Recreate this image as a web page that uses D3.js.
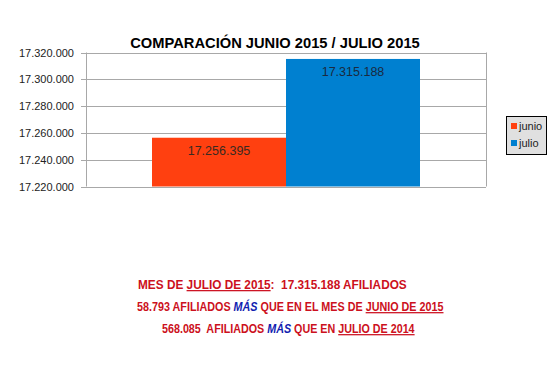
<!DOCTYPE html>
<html>
<head>
<style>
body { margin: 0; background: #fff; }
text { font-family: "Liberation Sans", Arial, sans-serif; }
</style>
</head>
<body>
<div id="chart"></div>
<script src="https://d3js.org/d3.v7.min.js"></script>
<script>
const width = 552, height = 368;

const categories = ["junio", "julio"];
const values = [17256395, 17315188];
const colors = ["#ff4010", "#0080d0"];
const yTicks = [17220000, 17240000, 17260000, 17280000, 17300000, 17320000];

const es = d3.formatLocale({ decimal: ",", thousands: ".", grouping: [3], currency: ["", " €"] });
const fmt = es.format(",d");

const svg = d3.select("#chart").append("svg")
  .attr("width", width)
  .attr("height", height);

svg.append("rect").attr("width", width).attr("height", height).attr("fill", "#fff");

const plot = { left: 86, right: 486, top: 52.5, bottom: 186.5 };

const y = d3.scaleLinear()
  .domain([17220000, 17320000])
  .range([plot.bottom, plot.top]);

const x = d3.scaleBand()
  .domain(categories)
  .range([152, 420]);

// gridlines
svg.append("g")
  .selectAll("line")
  .data(yTicks)
  .join("line")
    .attr("x1", plot.left - 5)
    .attr("x2", plot.right)
    .attr("y1", d => Math.round(y(d)) + 0.5)
    .attr("y2", d => Math.round(y(d)) + 0.5)
    .attr("stroke", "#a8a8a8");

// axis & right border
svg.append("line")
  .attr("x1", plot.left + 0.5).attr("x2", plot.left + 0.5)
  .attr("y1", plot.top).attr("y2", plot.bottom)
  .attr("stroke", "#a8a8a8");
svg.append("line")
  .attr("x1", plot.right + 0.5).attr("x2", plot.right + 0.5)
  .attr("y1", plot.top).attr("y2", plot.bottom)
  .attr("stroke", "#a8a8a8");

// tick labels
svg.append("g")
  .selectAll("text")
  .data(yTicks)
  .join("text")
    .attr("x", 74)
    .attr("y", d => y(d) + 4)
    .attr("text-anchor", "end")
    .attr("font-size", 11)
    .attr("fill", "#222")
    .text(d => fmt(d));

// bars
svg.append("g")
  .selectAll("rect")
  .data(values)
  .join("rect")
    .attr("x", (d, i) => x(categories[i]))
    .attr("width", x.bandwidth())
    .attr("y", d => y(d))
    .attr("height", d => plot.bottom - y(d))
    .attr("fill", (d, i) => colors[i]);

// bar labels
svg.append("g")
  .selectAll("text")
  .data(values)
  .join("text")
    .attr("x", (d, i) => x(categories[i]) + x.bandwidth() / 2)
    .attr("y", d => y(d) + 17)
    .attr("text-anchor", "middle")
    .attr("font-size", 12.5)
    .attr("fill", (d, i) => i === 0 ? "#3a2a20" : "#1a2a40")
    .text(d => fmt(d));

// title
svg.append("text")
  .attr("x", 275)
  .attr("y", 48)
  .attr("text-anchor", "middle")
  .attr("font-size", 14.7)
  .attr("font-weight", "bold")
  .attr("fill", "#000")
  .text("COMPARACIÓN JUNIO 2015 / JULIO 2015");

// legend
const legend = svg.append("g").attr("transform", "translate(506,116)");
legend.append("rect")
  .attr("x", 0.5).attr("y", 0.5)
  .attr("width", 40).attr("height", 38)
  .attr("fill", "#e0e0e0")
  .attr("stroke", "#000");
categories.forEach((c, i) => {
  legend.append("rect")
    .attr("x", 5).attr("y", 7 + i * 17)
    .attr("width", 6).attr("height", 6)
    .attr("fill", colors[i]);
  legend.append("text")
    .attr("x", 13).attr("y", 14 + i * 17)
    .attr("font-size", 11)
    .attr("fill", "#222")
    .text(c);
});

// summary lines
const red = "#cc1020", blue = "#1020b0";
const lines = [
  [{ t: "MES DE " }, { t: "JULIO DE 2015", u: true }, { t: ":  17.315.188 AFILIADOS" }],
  [{ t: "58.793 AFILIADOS " }, { t: "MÁS", i: true }, { t: " QUE EN EL MES DE " }, { t: "JUNIO DE 2015", u: true }],
  [{ t: "568.085  AFILIADOS " }, { t: "MÁS", i: true }, { t: " QUE EN " }, { t: "JULIO DE 2014", u: true }]
];
// left/right extent of each line in the reference
const lineSpan = [[138, 407], [137, 444], [162, 415]];
lines.forEach((parts, li) => {
  const t = svg.append("text")
    .attr("x", 0)
    .attr("y", 0)
    .attr("font-size", 12.5)
    .attr("font-weight", "bold")
    .attr("fill", red)
    .attr("xml:space", "preserve")
    .style("white-space", "pre");
  parts.forEach(p => {
    const s = t.append("tspan").text(p.t);
    if (p.u) s.attr("text-decoration", "underline");
    if (p.i) s.attr("font-style", "italic").attr("fill", blue);
  });
  const w = t.node().getComputedTextLength();
  const [x0, x1] = lineSpan[li];
  t.attr("transform", `translate(${x0},${289 + li * 22}) scale(${(x1 - x0) / w},1)`);
});
</script>
</body>
</html>
